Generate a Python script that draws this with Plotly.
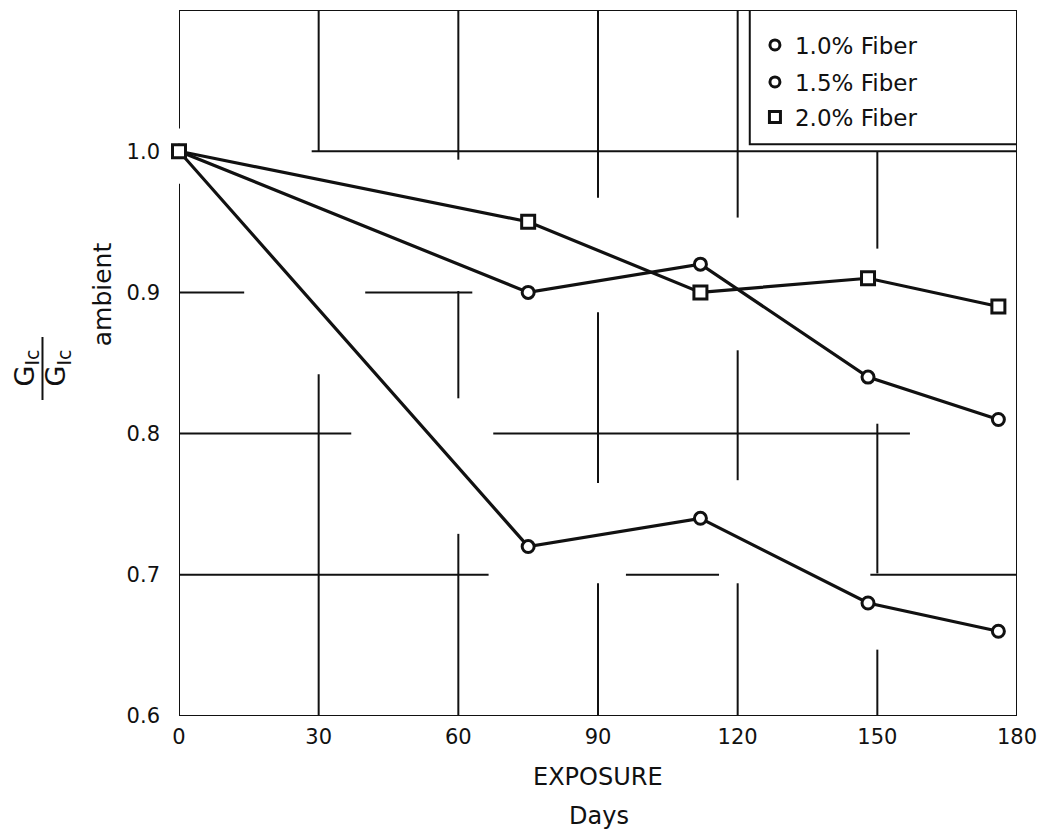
import plotly.graph_objects as go

# ---- data ----
days = [0, 75, 112, 148, 176]
fiber_10 = [1.00, 0.72, 0.74, 0.68, 0.66]
fiber_15 = [1.00, 0.90, 0.92, 0.84, 0.81]
fiber_20 = [1.00, 0.95, 0.90, 0.91, 0.89]
series_names = ["1.0% Fiber", "1.5% Fiber", "2.0% Fiber"]
x_ticks = [0, 30, 60, 90, 120, 150, 180]
y_ticks = [0.6, 0.7, 0.8, 0.9, 1.0]
y_ticktext = ["0.6", "0.7", "0.8", "0.9", "1.0"]

FONT = "DejaVu Sans"
BLACK = "#111111"

# broken hand-drawn grid (decoration): vertical (x, y0, y1), horizontal (y, x0, x1)
vgrid = [
    (30, 1.0, 1.1), (30, 0.6, 0.842),
    (60, 0.994, 1.1), (60, 0.825, 0.901), (60, 0.6, 0.729),
    (90, 0.967, 1.1), (90, 0.765, 0.886), (90, 0.6, 0.694),
    (120, 0.953, 1.1), (120, 0.767, 0.859), (120, 0.6, 0.694),
    (150, 0.931, 1.0), (150, 0.701, 0.807), (150, 0.6, 0.647),
]
hgrid = [
    (1.0, 28.5, 180),
    (0.9, 0, 14), (0.9, 40, 63),
    (0.8, 0, 37), (0.8, 67.5, 157),
    (0.7, 0, 66.5), (0.7, 96, 116), (0.7, 148.5, 180),
]
frame = [
    (0, 0.6, 0, 0.977), (0, 1.016, 0, 1.1),   # left (gap at marker)
    (0, 1.1, 180, 1.1),                        # top
    (180, 0.6, 180, 1.1),                      # right
    (0, 0.6, 180, 0.6),                        # bottom
]

L, W, T, H = 179, 841, 10, 706
def px(xp): return (xp - L) / W
def py(yp): return (T + H - yp) / H

fig = go.Figure()

styles = [
    (fiber_10, "circle", 12),
    (fiber_15, "circle", 12),
    (fiber_20, "square", 13),
]
for (vals, sym, sz), name in zip(styles, series_names):
    fig.add_trace(go.Scatter(
        x=days, y=vals, mode="lines+markers", name=name, showlegend=False,
        line=dict(color=BLACK, width=3.2),
        marker=dict(symbol=sym, size=sz, color="white",
                    line=dict(color=BLACK, width=3)),
        cliponaxis=False,
    ))
# legend-only entries (markers only), one legend per row for exact spacing
legend_ids = ["legend", "legend2", "legend3"]
legend_rows = [45, 82, 117]
for (vals, sym, sz), name, lid in zip(styles, series_names, legend_ids):
    fig.add_trace(go.Scatter(
        x=[None], y=[None], mode="markers", name=name, legend=lid,
        marker=dict(symbol=sym, size=sz - 2, color="white",
                    line=dict(color=BLACK, width=3)),
    ))

shapes = []
for x, y0, y1 in vgrid:
    shapes.append(dict(type="line", xref="x", yref="y", x0=x, x1=x, y0=y0, y1=y1,
                       line=dict(color=BLACK, width=2), layer="below"))
for y, x0, x1 in hgrid:
    shapes.append(dict(type="line", xref="x", yref="y", x0=x0, x1=x1, y0=y, y1=y,
                       line=dict(color=BLACK, width=2), layer="below"))
for x0, y0, x1, y1 in frame:
    shapes.append(dict(type="line", xref="x", yref="y", x0=x0, x1=x1, y0=y0, y1=y1,
                       line=dict(color=BLACK, width=2), layer="below"))
# legend box
shapes.append(dict(type="rect", xref="x", yref="y", x0=122.6, x1=180, y0=1.005, y1=1.1,
                   line=dict(color=BLACK, width=2), fillcolor="rgba(0,0,0,0)", layer="below"))
# fraction bar of the y-axis title
shapes.append(dict(type="line", xref="paper", yref="paper", x0=px(42), x1=px(42),
                   y0=py(400), y1=py(337), line=dict(color=BLACK, width=2)))

def ann(text, xp, yp, size, angle=-90):
    return dict(text=text, x=px(xp), y=py(yp), xref="paper", yref="paper",
                textangle=angle, showarrow=False, xanchor="center", yanchor="middle",
                font=dict(family=FONT, size=size, color=BLACK))

annotations = [
    ann("G<sub>Ic</sub>", 26, 368, 27),
    ann("G<sub>Ic</sub>", 58, 368, 27),
    ann("ambient", 102, 294, 25),
    ann("EXPOSURE", 600, 777, 24, 0),
    ann("Days", 601, 816, 24, 0),
]

legend_common = dict(xanchor="left", yanchor="middle", bgcolor="rgba(0,0,0,0)",
                     borderwidth=0, font=dict(family=FONT, size=23, color=BLACK),
                     itemwidth=30)

fig.update_layout(
    width=1047, height=829,
    margin=dict(l=L, r=1047 - L - W, t=T, b=829 - T - H),
    paper_bgcolor="white", plot_bgcolor="white",
    font=dict(family=FONT, size=21, color=BLACK),
    shapes=shapes, annotations=annotations,
    showlegend=True,
    legend=dict(x=px(757), y=py(legend_rows[0]), **legend_common),
    legend2=dict(x=px(757), y=py(legend_rows[1]), **legend_common),
    legend3=dict(x=px(757), y=py(legend_rows[2]), **legend_common),
    xaxis=dict(range=[0, 180], tickvals=x_ticks, showgrid=False, zeroline=False,
               showline=False, ticks="", ticklabelstandoff=6,
               tickfont=dict(family=FONT, size=21, color=BLACK)),
    yaxis=dict(range=[0.6, 1.1], tickvals=y_ticks, ticktext=y_ticktext,
               showgrid=False, zeroline=False, showline=False, ticks="",
               ticklabelstandoff=18,
               tickfont=dict(family=FONT, size=21, color=BLACK)),
)

fig.write_html("out.html")
